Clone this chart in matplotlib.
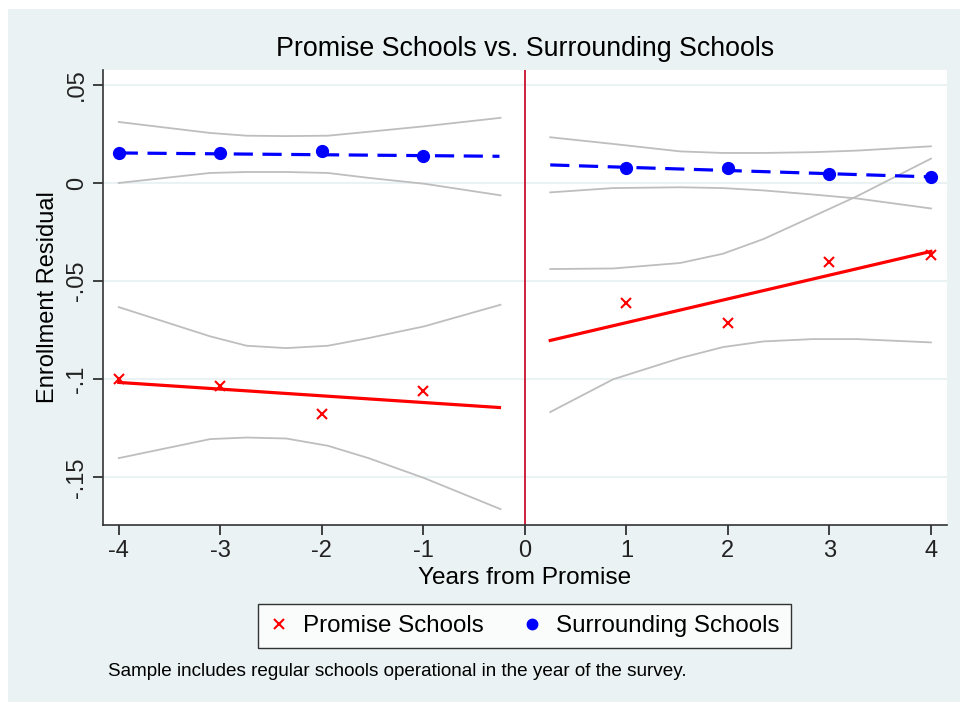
import numpy as np
import matplotlib
matplotlib.use("Agg")
import matplotlib.pyplot as plt
from matplotlib.patches import Rectangle
from matplotlib.lines import Line2D

plt.rcParams['font.family'] = ['Liberation Sans', 'DejaVu Sans']

# event years
pre_years = [-4, -3, -2, -1]
post_years = [1, 2, 3, 4]

# mean enrollment residuals
promise_pre = [-0.0999, -0.1033, -0.1176, -0.1059]
promise_post = [-0.0611, -0.0713, -0.0402, -0.0365]
surround_pre = [0.0154, 0.0152, 0.0162, 0.0137]
surround_post = [0.0075, 0.0079, 0.0047, 0.0030]

# linear fits (endpoints)
fit_x_pre = [-4.0, -0.25]
fit_x_post = [0.25, 4.0]
promise_fit_pre = [-0.1016, -0.1144]
promise_fit_post = [-0.0802, -0.0348]
surround_fit_pre = [0.0154, 0.0137]
surround_fit_post = [0.0093, 0.0032]

# confidence bands
band_x_pre = [-4.0, -3.1, -2.74, -2.35, -1.94, -1.54, -0.99, -0.24]
surround_hi_pre = [0.0312, 0.0256, 0.0242, 0.0240, 0.0242, 0.0262, 0.0290, 0.0333]
surround_lo_pre = [0.0001, 0.0052, 0.0057, 0.0057, 0.0052, 0.0027, -0.0003, -0.0062]
promise_hi_pre = [-0.0632, -0.0781, -0.0829, -0.0841, -0.0829, -0.0790, -0.0730, -0.0620]
promise_lo_pre = [-0.1402, -0.1305, -0.1297, -0.1302, -0.1339, -0.1402, -0.1504, -0.1662]

band_x_post = [0.25, 0.87, 1.53, 1.95, 2.35, 2.84, 3.27, 4.0]
surround_hi_post = [0.0234, 0.0200, 0.0162, 0.0154, 0.0154, 0.0158, 0.0166, 0.0188]
surround_lo_post = [-0.0047, -0.0025, -0.0021, -0.0025, -0.0037, -0.0058, -0.0078, -0.0129]
promise_hi_post = [-0.0438, -0.0435, -0.0407, -0.0360, -0.0285, -0.0169, -0.0067, 0.0125]
promise_lo_post = [-0.1167, -0.1000, -0.0892, -0.0836, -0.0807, -0.0795, -0.0795, -0.0812]

y_ticks = [0.05, 0, -0.05, -0.1, -0.15]
y_ticklabels = ['.05', '0', '-.05', '-.1', '-.15']
x_ticks = [-4, -3, -2, -1, 0, 1, 2, 3, 4]

bg = '#EAF2F3'
band_col = '#BEBEBE'

fig = plt.figure(figsize=(9.6, 7.02), dpi=100, facecolor='white')
fig.patches.append(Rectangle((8/960, 0), 1, 1 - 9/702, transform=fig.transFigure,
                             facecolor=bg, edgecolor='none', zorder=-10))
ax = fig.add_axes([103/960, 1 - 525/702, (947 - 103)/960, (525 - 70)/702])
ax.set_facecolor('white')

for y in y_ticks:
    ax.axhline(y, color=bg, lw=1.5, zorder=0)

for bx, lo, hi in [(band_x_pre, surround_lo_pre, surround_hi_pre),
                   (band_x_pre, promise_lo_pre, promise_hi_pre),
                   (band_x_post, surround_lo_post, surround_hi_post),
                   (band_x_post, promise_lo_post, promise_hi_post)]:
    ax.plot(bx, lo, color=band_col, lw=1.3, zorder=1)
    ax.plot(bx, hi, color=band_col, lw=1.3, zorder=1)

ax.plot(fit_x_pre, promise_fit_pre, color='red', lw=2.3, zorder=2)
ax.plot(fit_x_post, promise_fit_post, color='red', lw=2.3, zorder=2)
ax.plot(fit_x_pre, surround_fit_pre, color='blue', lw=2.3, ls=(0, (6, 3)), zorder=2)
ax.plot(fit_x_post, surround_fit_post, color='blue', lw=2.3, ls=(0, (6, 3)), zorder=2)

ax.plot(pre_years + post_years, promise_pre + promise_post, 'x', color='red',
        ms=6.5, mew=1.5, zorder=3)
ax.plot(pre_years + post_years, surround_pre + surround_post, 'o', color='blue',
        ms=8.5, zorder=3)

ax.axvline(0, color='#C8102E', lw=1.3, zorder=2)

ax.set_xlim(-4.155, 4.158)
ax.set_ylim(-0.1743, 0.0577)
ax.set_xticks(x_ticks)
ax.set_xticklabels([str(t) for t in x_ticks])
ax.set_yticks(y_ticks)
ax.set_yticklabels(y_ticklabels, rotation=90, va='center')
ax.tick_params(axis='both', labelsize=17, colors='#222222', width=1.2, length=7)
ax.tick_params(axis='y', pad=4)
for s in ['top', 'right']:
    ax.spines[s].set_visible(False)
for s in ['left', 'bottom']:
    ax.spines[s].set_color('#333333')
    ax.spines[s].set_linewidth(1.2)

fig.text(525/960, 1 - 49/702, 'Promise Schools vs. Surrounding Schools',
         ha='center', va='center', fontsize=19.3)
fig.text(525/960, 1 - 578/702, 'Years from Promise', ha='center', va='center', fontsize=17.6)
fig.text(48/960, 1 - 297/702, 'Enrollment Residual', ha='center', va='center',
         rotation=90, fontsize=17)
fig.text(108/960, 1 - 671/702,
         'Sample includes regular schools operational in the year of the survey.',
         ha='left', va='center', fontsize=13.6)

handles = [Line2D([], [], ls='none', marker='x', color='red', ms=6.5, mew=1.5),
           Line2D([], [], ls='none', marker='o', color='blue', ms=7.5)]
leg = fig.legend(handles, ['Promise Schools', 'Surrounding Schools'], ncol=2,
                 loc='center', bbox_to_anchor=(524.5/960, 1 - 626/702),
                 fontsize=17.4, frameon=True, fancybox=False, edgecolor='black',
                 handlelength=0.8, handletextpad=0.6, columnspacing=1.6,
                 borderpad=0.45)
leg.get_frame().set_linewidth(1.0)

fig.savefig('out.png', dpi=100, facecolor=fig.get_facecolor())
